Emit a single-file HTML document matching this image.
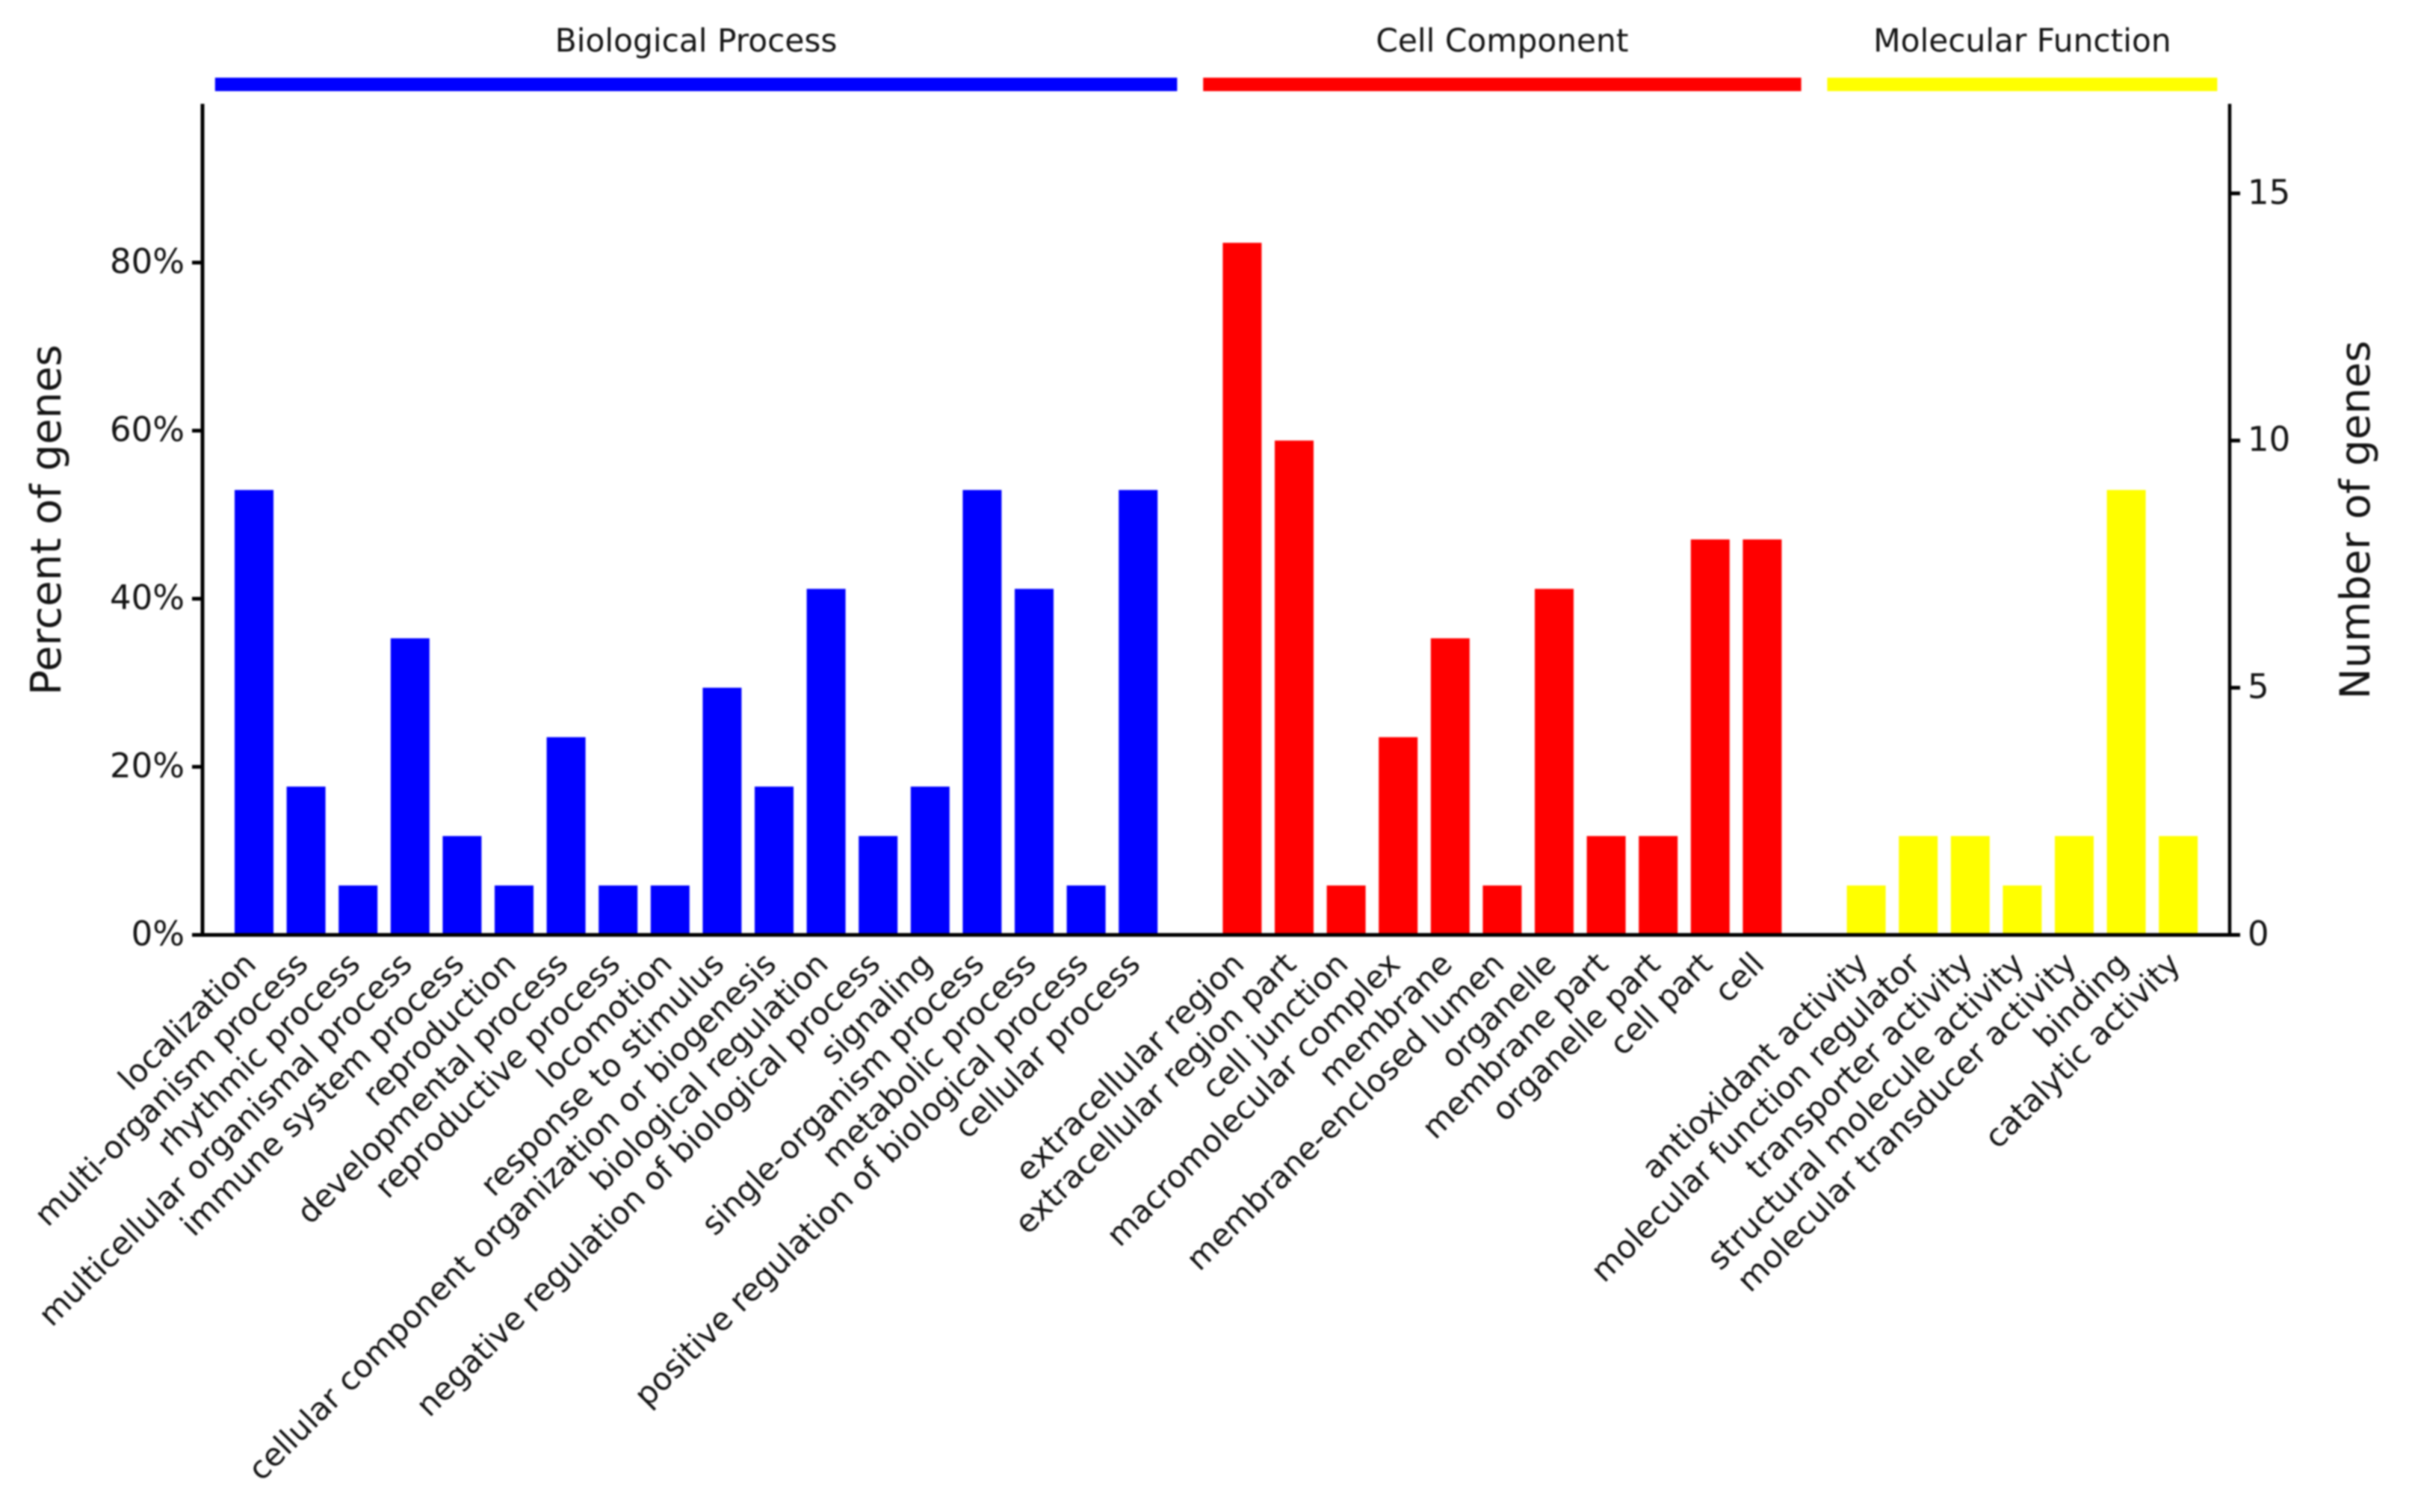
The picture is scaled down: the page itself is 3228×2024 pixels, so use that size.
<!DOCTYPE html>
<html lang="en">
<head>
<meta charset="utf-8">
<title>Gene ontology classification</title>
<style>
  html, body { margin: 0; padding: 0; background: #fff; }
  body { width: 3228px; height: 2024px; overflow: hidden; }
  svg { display: block; filter: blur(1px); }
  text { font-family: "DejaVu Sans", "Liberation Sans", sans-serif; fill: #141414; }
</style>
</head>
<body>
<svg id="chart" xmlns="http://www.w3.org/2000/svg" width="3228" height="2024" viewBox="0 0 3228 2024">
  <rect x="0" y="0" width="3228" height="2024" fill="#ffffff"/>
  <g id="bars"></g>
  <g id="strips"></g>
  <g id="axes"></g>
  <g id="xlabels"></g>
  <text transform="translate(81,696) rotate(-90)" text-anchor="middle" font-size="56">Percent of genes</text>
  <text transform="translate(3171,696) rotate(-90)" text-anchor="middle" font-size="55.6">Number of genes</text>
</svg>
<script>
const bpCategories = ["localization", "multi-organism process", "rhythmic process", "multicellular organismal process", "immune system process", "reproduction", "developmental process", "reproductive process", "locomotion", "response to stimulus", "cellular component organization or biogenesis", "biological regulation", "negative regulation of biological process", "signaling", "single-organism process", "metabolic process", "positive regulation of biological process", "cellular process"];
const bpGenes = [9, 3, 1, 6, 2, 1, 4, 1, 1, 5, 3, 7, 2, 3, 9, 7, 1, 9];
const ccCategories = ["extracellular region", "extracellular region part", "cell junction", "macromolecular complex", "membrane", "membrane-enclosed lumen", "organelle", "membrane part", "organelle part", "cell part", "cell"];
const ccGenes = [14, 10, 1, 4, 6, 1, 7, 2, 2, 8, 8];
const mfCategories = ["antioxidant activity", "molecular function regulator", "transporter activity", "structural molecule activity", "molecular transducer activity", "binding", "catalytic activity"];
const mfGenes = [1, 2, 2, 1, 2, 9, 2];
const groupNames = ["Biological Process", "Cell Component", "Molecular Function"];
const groupColors = ["#0000ff", "#ff0000", "#ffff00"];
const totalGenes = 17;
const percentTicks = [0, 20, 40, 60, 80];
const geneTicks = [0, 5, 10, 15];

const NS = "http://www.w3.org/2000/svg";
const baselineY = 1251.5;
const axisTopY = 139;
const pxPerPercent = 11.25;
const slotStart = 340;
const slotStep = 69.6;
const barWidth = 52;

function xSlot(i) { return slotStart + slotStep * i; }
function yPercent(p) { return baselineY - p * pxPerPercent; }
function yGenes(g) { return yPercent(g / totalGenes * 100); }

function make(tag, parent, attrs, content) {
  const el = document.createElementNS(NS, tag);
  for (const k in attrs) el.setAttribute(k, attrs[k]);
  if (content !== undefined) el.textContent = content;
  parent.appendChild(el);
  return el;
}

const barsG = document.getElementById("bars");
const stripsG = document.getElementById("strips");
const axesG = document.getElementById("axes");
const labelsG = document.getElementById("xlabels");

const groupCategories = [bpCategories, ccCategories, mfCategories];
const groupGenes = [bpGenes, ccGenes, mfGenes];

let slot = 0;
groupCategories.forEach(function (cats, g) {
  const firstSlot = slot;
  cats.forEach(function (cat, i) {
    const cx = xSlot(slot);
    const top = yGenes(groupGenes[g][i]);
    const bar = make("rect", barsG, { x: cx - barWidth / 2, y: top, width: barWidth, height: baselineY - top, fill: groupColors[g] });
    
    
    const label = make("text", labelsG, { transform: "translate(" + (cx + 5) + ",1293) rotate(-45)", "text-anchor": "end", "font-size": 42.2 }, cat);
    
    
    slot++;
  });
  const lastSlot = slot - 1;
  const x0 = xSlot(firstSlot) - slotStep * 0.75;
  const x1 = xSlot(lastSlot) + slotStep * 0.75;
  const strip = make("rect", stripsG, { x: x0, y: 104, width: x1 - x0, height: 18, fill: groupColors[g] });
  
  
  const title = make("text", stripsG, { x: (x0 + x1) / 2, y: 69, "text-anchor": "middle", "font-size": 42.3 }, groupNames[g]);
  
  
  slot++;
});

const leftAxisX = 271;
const rightAxisX = 2984;

const leftAxis = make("line", axesG, { x1: leftAxisX, x2: leftAxisX, y1: axisTopY, y2: baselineY + 2, stroke: "#000", "stroke-width": 5 });



const rightAxis = make("line", axesG, { x1: rightAxisX, x2: rightAxisX, y1: axisTopY, y2: baselineY + 2, stroke: "#000", "stroke-width": 4.5 });



const xAxis = make("line", axesG, { x1: leftAxisX, x2: rightAxisX, y1: baselineY, y2: baselineY, stroke: "#000", "stroke-width": 5 });



percentTicks.forEach(function (p) {
  const y = yPercent(p);
  const tick = make("line", axesG, { x1: 257, x2: leftAxisX, y1: y, y2: y, stroke: "#000", "stroke-width": 5 });
  
  
  const lab = make("text", axesG, { x: 247, y: y + 14, "text-anchor": "end", "font-size": 45 }, p + "%");
  
  
});

geneTicks.forEach(function (g) {
  const y = yGenes(g);
  const tick = make("line", axesG, { x1: rightAxisX, x2: 2998, y1: y, y2: y, stroke: "#000", "stroke-width": 5 });
  
  
  const lab = make("text", axesG, { x: 3008, y: y + 14, "text-anchor": "start", "font-size": 45 }, String(g));
  
  
});
</script>
</body>
</html>
